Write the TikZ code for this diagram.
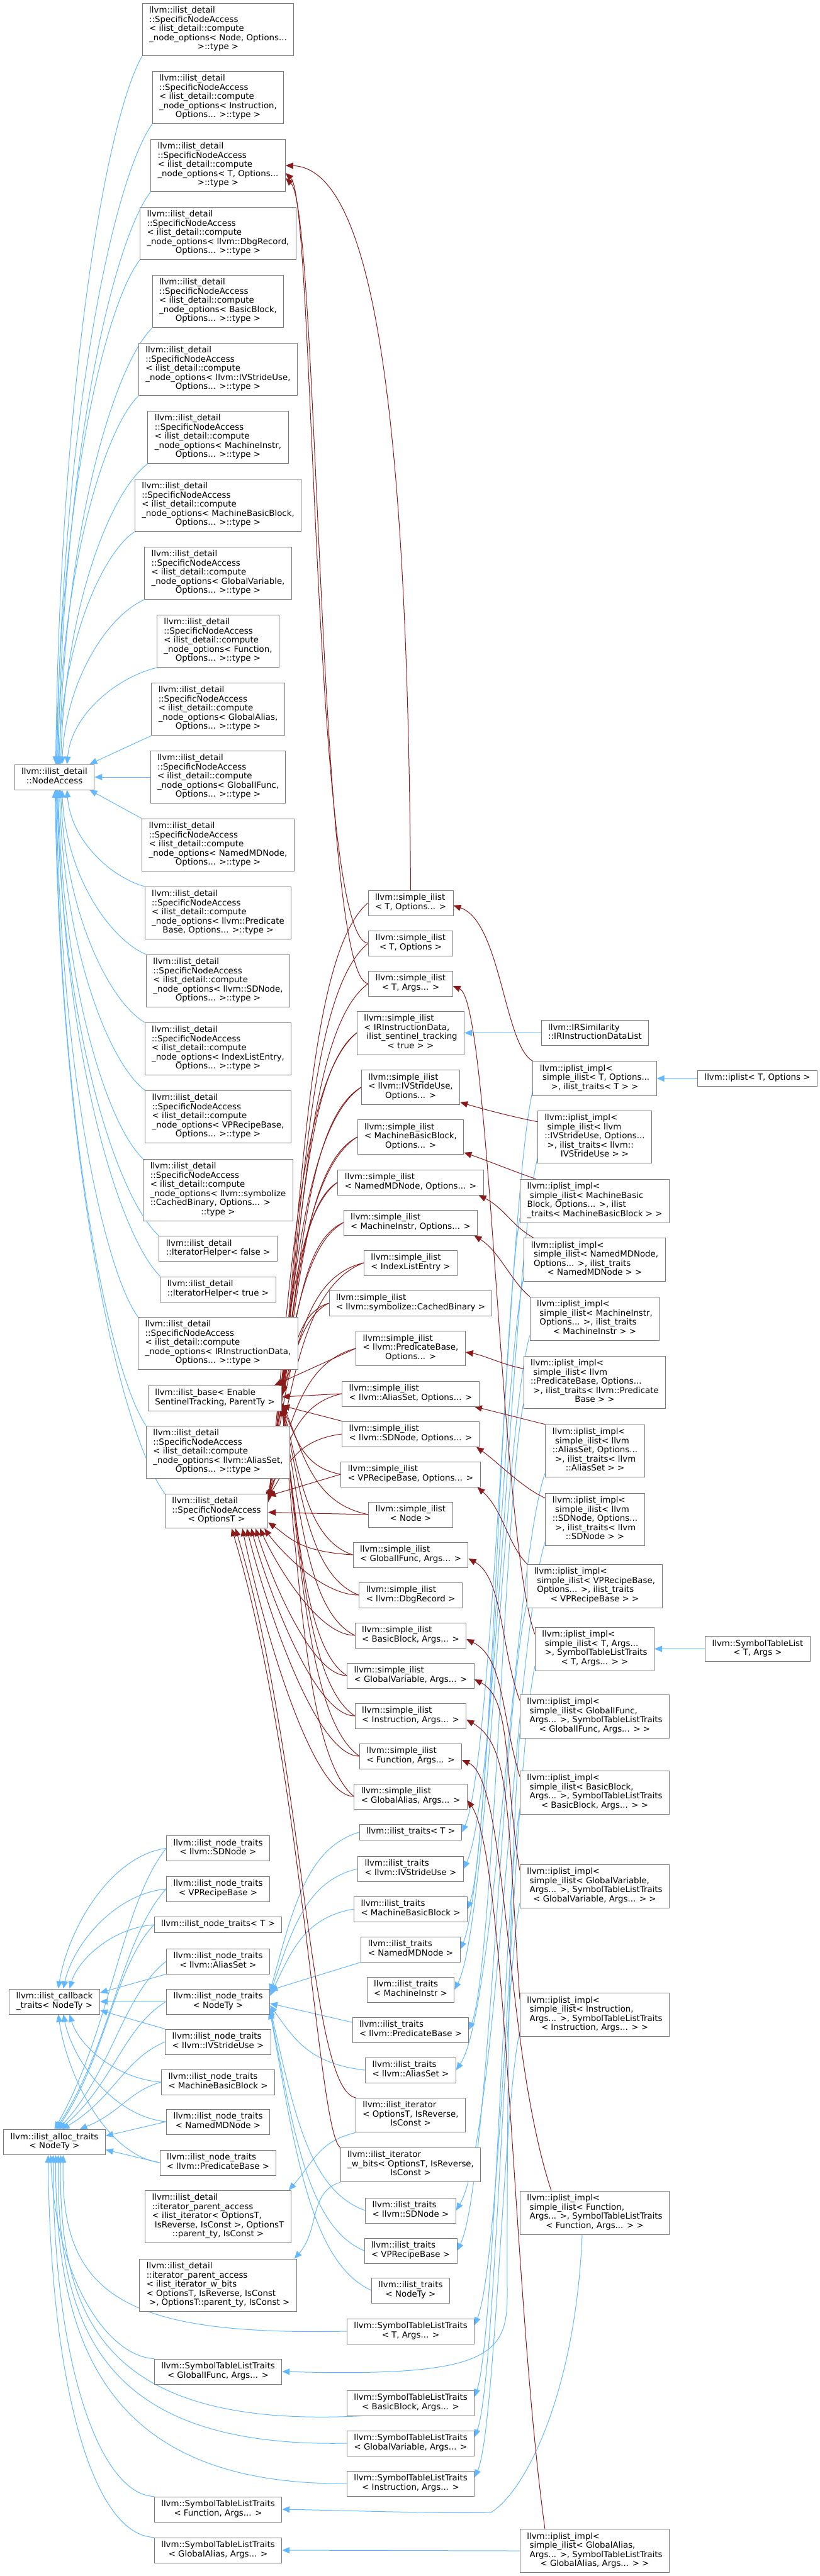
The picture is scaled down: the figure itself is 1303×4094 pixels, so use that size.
\documentclass[tikz,border=0pt]{standalone}
\usepackage{fontspec}
\setmainfont{DejaVu Sans}
\usetikzlibrary{arrows.meta,calc}
\pgfdeclarelayer{edgelayer}
\pgfsetlayers{edgelayer,main}
\definecolor{eblue}{HTML}{63B8FF}
\definecolor{ered}{HTML}{8B1A1A}
\definecolor{bgray}{HTML}{7A7A7A}
\newcommand\nf{\fontsize{13.33}{14.5}\selectfont}
\newcommand\ind{\hspace*{0.32em}}
\newcommand\lab[2]{\begin{tabular}{@{}l@{}}#1\\\multicolumn{1}{@{}c@{}}{#2}\end{tabular}}
\newcommand\one[1]{\begin{tabular}{@{}c@{}}#1\end{tabular}}
\newcommand\sna[2]{\lab{llvm::ilist\_detail\\::SpecificNodeAccess\\< ilist\_detail::compute\\#1}{#2}}
\newcommand\ipst[1]{\lab{llvm::iplist\_impl<\\\ind simple\_ilist< #1,\\\ind Args... >, SymbolTableListTraits}{< #1, Args... > >}}
\tikzset{
 box/.style={draw=bgray, fill=white, line width=1pt, inner xsep=11pt, inner ysep=5.5pt, font=\nf},
 be/.style={draw=eblue, line width=1pt, -{Triangle[length=12pt,width=10pt]}},
 re/.style={draw=ered, line width=1pt, -{Triangle[length=12pt,width=10pt]}},
 pc/.style n args={4}{to path={let \p1=(\tikztostart),\p2=(\tikztotarget) in .. controls ({\x1+#1*(\x2-\x1)},{\y1+#2*(\y2-\y1)}) and ({\x2+#3*(\x1-\x2)},{\y2+#4*(\y1-\y2)}) .. (\tikztotarget)}},
 naS/.style={pc={0.42}{0.09}{0.05}{0.53}},
 corr/.style={pc={0.65}{0.1}{0.25}{0.45}},
 fan/.style={pc={0.4}{0}{0.15}{0.3}},
 ntc/.style={pc={0.5}{0.05}{0.1}{0.45}},
 nta/.style={pc={0.4}{0.2}{0.5}{0.35}},
 itn/.style={pc={0.6}{0.1}{0.25}{0.5}},
 ipc/.style={pc={0.35}{0.15}{0.45}{0.1}}
}
\begin{document}
\begin{tikzpicture}[x=1pt,y=-1pt]
\useasboundingbox (0,0) rectangle (1303,4094);
% ---------- column A ----------
\node[box] (na) at (86.5,1235) {\lab{llvm::ilist\_detail}{::NodeAccess}};
\node[box] (cb) at (86.5,3181) {\lab{llvm::ilist\_callback}{\_traits< NodeTy >}};
\node[box] (al) at (86.5,3404.5) {\lab{llvm::ilist\_alloc\_traits}{< NodeTy >}};
% ---------- column B ----------
\node[box] (sNode) at (346.5,47) {\sna{\_node\_options< Node, Options...}{>::type >}};
\node[box] (sInst) at (346.5,155) {\sna{\_node\_options< Instruction,}{Options... >::type >}};
\node[box] (sT) at (346.5,263) {\sna{\_node\_options< T, Options...}{>::type >}};
\node[box] (sDbg) at (346.5,371) {\sna{\_node\_options< llvm::DbgRecord,}{Options... >::type >}};
\node[box] (sBB) at (346.5,479) {\sna{\_node\_options< BasicBlock,}{Options... >::type >}};
\node[box] (sIV) at (346.5,587) {\sna{\_node\_options< llvm::IVStrideUse,}{Options... >::type >}};
\node[box] (sMI) at (346.5,695) {\sna{\_node\_options< MachineInstr,}{Options... >::type >}};
\node[box] (sMBB) at (346.5,803) {\sna{\_node\_options< MachineBasicBlock,}{Options... >::type >}};
\node[box] (sGV) at (346.5,911) {\sna{\_node\_options< GlobalVariable,}{Options... >::type >}};
\node[box] (sFn) at (346.5,1019) {\sna{\_node\_options< Function,}{Options... >::type >}};
\node[box] (sGA) at (346.5,1127) {\sna{\_node\_options< GlobalAlias,}{Options... >::type >}};
\node[box] (sGI) at (346.5,1235) {\sna{\_node\_options< GlobalIFunc,}{Options... >::type >}};
\node[box] (sNMD) at (346.5,1343) {\sna{\_node\_options< NamedMDNode,}{Options... >::type >}};
\node[box] (sPB) at (346.5,1451) {\sna{\_node\_options< llvm::Predicate}{Base, Options... >::type >}};
\node[box] (sSD) at (346.5,1559) {\sna{\_node\_options< llvm::SDNode,}{Options... >::type >}};
\node[box] (sILE) at (346.5,1667) {\sna{\_node\_options< IndexListEntry,}{Options... >::type >}};
\node[box] (sVP) at (346.5,1775) {\sna{\_node\_options< VPRecipeBase,}{Options... >::type >}};
\node[box] (sCB) at (346.5,1891) {\sna{\_node\_options< llvm::symbolize\\::CachedBinary, Options... >}{::type >}};
\node[box] (ihF) at (346.5,1984.5) {\lab{llvm::ilist\_detail}{::IteratorHelper< false >}};
\node[box] (ihT) at (346.5,2049) {\lab{llvm::ilist\_detail}{::IteratorHelper< true >}};
\node[box] (sIRD) at (346.5,2135) {\sna{\_node\_options< IRInstructionData,}{Options... >::type >}};
\node[box] (ib) at (341.5,2222) {\lab{llvm::ilist\_base< Enable}{SentinelTracking, ParentTy >}};
\node[box] (sAS) at (346.5,2308) {\sna{\_node\_options< llvm::AliasSet,}{Options... >::type >}};
\node[box] (sOT) at (344,2401.5) {\lab{llvm::ilist\_detail\\::SpecificNodeAccess}{< OptionsT >}};
% ---------- column A' ----------
\node[box] (ntSD) at (346.5,2937.5) {\lab{llvm::ilist\_node\_traits}{< llvm::SDNode >}};
\node[box] (ntVP) at (346.5,3002) {\lab{llvm::ilist\_node\_traits}{< VPRecipeBase >}};
\node[box] (ntT) at (346.5,3059) {\one{llvm::ilist\_node\_traits< T >}};
\node[box] (ntAS) at (346.5,3117) {\lab{llvm::ilist\_node\_traits}{< llvm::AliasSet >}};
\node[box] (ntNT) at (346.5,3181) {\lab{llvm::ilist\_node\_traits}{< NodeTy >}};
\node[box] (ntIV) at (346.5,3245) {\lab{llvm::ilist\_node\_traits}{< llvm::IVStrideUse >}};
\node[box] (ntMBB) at (346.5,3309) {\lab{llvm::ilist\_node\_traits}{< MachineBasicBlock >}};
\node[box] (ntNMD) at (346.5,3372) {\lab{llvm::ilist\_node\_traits}{< NamedMDNode >}};
\node[box] (ntPB) at (346.5,3437) {\lab{llvm::ilist\_node\_traits}{< llvm::PredicateBase >}};
\node[box] (ipa) at (346.5,3523) {\lab{llvm::ilist\_detail\\::iterator\_parent\_access\\< ilist\_iterator< OptionsT,\\\ind IsReverse, IsConst >, OptionsT}{::parent\_ty, IsConst >}};
\node[box] (ipawb) at (346.5,3632) {\lab{llvm::ilist\_detail\\::iterator\_parent\_access\\< ilist\_iterator\_w\_bits\\< OptionsT, IsReverse, IsConst}{\ind>, OptionsT::parent\_ty, IsConst >}};
\node[box] (stGI) at (346.5,3769) {\lab{llvm::SymbolTableListTraits}{< GlobalIFunc, Args... >}};
\node[box] (stFn) at (346.5,3988) {\lab{llvm::SymbolTableListTraits}{< Function, Args... >}};
\node[box] (stGA) at (346.5,4053) {\lab{llvm::SymbolTableListTraits}{< GlobalAlias, Args... >}};
% ---------- column C ----------
\node[box] (siTO) at (652.5,1435) {\lab{llvm::simple\_ilist}{< T, Options... >}};
\node[box] (siTOn) at (652.5,1499) {\lab{llvm::simple\_ilist}{< T, Options >}};
\node[box] (siTA) at (652.5,1563) {\lab{llvm::simple\_ilist}{< T, Args... >}};
\node[box] (siIRD) at (652.5,1641.5) {\lab{llvm::simple\_ilist\\< IRInstructionData,\\\ind ilist\_sentinel\_tracking}{< true > >}};
\node[box] (siIV) at (652.5,1728) {\lab{llvm::simple\_ilist\\< llvm::IVStrideUse,}{Options... >}};
\node[box] (siMBB) at (652.5,1807) {\lab{llvm::simple\_ilist\\< MachineBasicBlock,}{Options... >}};
\node[box] (siNMD) at (652.5,1879) {\lab{llvm::simple\_ilist}{< NamedMDNode, Options... >}};
\node[box] (siMI) at (652.5,1943) {\lab{llvm::simple\_ilist}{< MachineInstr, Options... >}};
\node[box] (siILE) at (652.5,2007) {\lab{llvm::simple\_ilist}{< IndexListEntry >}};
\node[box] (siCB) at (652.5,2071) {\lab{llvm::simple\_ilist}{< llvm::symbolize::CachedBinary >}};
\node[box] (siPB) at (652.5,2143) {\lab{llvm::simple\_ilist\\< llvm::PredicateBase,}{Options... >}};
\node[box] (siAS) at (652.5,2215) {\lab{llvm::simple\_ilist}{< llvm::AliasSet, Options... >}};
\node[box] (siSD) at (652.5,2279) {\lab{llvm::simple\_ilist}{< llvm::SDNode, Options... >}};
\node[box] (siVP) at (652.5,2343) {\lab{llvm::simple\_ilist}{< VPRecipeBase, Options... >}};
\node[box] (siNode) at (652.5,2407) {\lab{llvm::simple\_ilist}{< Node >}};
\node[box] (siGI) at (652.5,2471) {\lab{llvm::simple\_ilist}{< GlobalIFunc, Args... >}};
\node[box] (siDbg) at (652.5,2535) {\lab{llvm::simple\_ilist}{< llvm::DbgRecord >}};
\node[box] (siBB) at (652.5,2599) {\lab{llvm::simple\_ilist}{< BasicBlock, Args... >}};
\node[box] (siGV) at (652.5,2663) {\lab{llvm::simple\_ilist}{< GlobalVariable, Args... >}};
\node[box] (siInst) at (652.5,2727) {\lab{llvm::simple\_ilist}{< Instruction, Args... >}};
\node[box] (siFn) at (652.5,2791) {\lab{llvm::simple\_ilist}{< Function, Args... >}};
\node[box] (siGA) at (652.5,2855) {\lab{llvm::simple\_ilist}{< GlobalAlias, Args... >}};
\node[box] (itT) at (652.5,2912) {\one{llvm::ilist\_traits< T >}};
\node[box] (itIV) at (652.5,2970) {\lab{llvm::ilist\_traits}{< llvm::IVStrideUse >}};
\node[box] (itMBB) at (652.5,3034) {\lab{llvm::ilist\_traits}{< MachineBasicBlock >}};
\node[box] (itNMD) at (652.5,3098) {\lab{llvm::ilist\_traits}{< NamedMDNode >}};
\node[box] (itMI) at (652.5,3162) {\lab{llvm::ilist\_traits}{< MachineInstr >}};
\node[box] (itPB) at (652.5,3226) {\lab{llvm::ilist\_traits}{< llvm::PredicateBase >}};
\node[box] (itAS) at (652.5,3290) {\lab{llvm::ilist\_traits}{< llvm::AliasSet >}};
\node[box] (iter) at (652.5,3361.5) {\lab{llvm::ilist\_iterator\\< OptionsT, IsReverse,}{IsConst >}};
\node[box] (iterwb) at (652.5,3440.5) {\lab{llvm::ilist\_iterator\\\_w\_bits< OptionsT, IsReverse,}{IsConst >}};
\node[box] (itSD) at (652.5,3513) {\lab{llvm::ilist\_traits}{< llvm::SDNode >}};
\node[box] (itVP) at (652.5,3577) {\lab{llvm::ilist\_traits}{< VPRecipeBase >}};
\node[box] (itNT) at (652.5,3640) {\lab{llvm::ilist\_traits}{< NodeTy >}};
\node[box] (stT) at (652.5,3705) {\lab{llvm::SymbolTableListTraits}{< T, Args... >}};
\node[box] (stBB) at (652.5,3819) {\lab{llvm::SymbolTableListTraits}{< BasicBlock, Args... >}};
\node[box] (stGV) at (652.5,3883) {\lab{llvm::SymbolTableListTraits}{< GlobalVariable, Args... >}};
\node[box] (stInst) at (652.5,3947) {\lab{llvm::SymbolTableListTraits}{< Instruction, Args... >}};
% ---------- column D ----------
\node[box] (irdl) at (945.5,1641.5) {\lab{llvm::IRSimilarity}{::IRInstructionDataList}};
\node[box] (ipT) at (945,1714) {\lab{llvm::iplist\_impl<\\\ind simple\_ilist< T, Options...}{>, ilist\_traits< T > >}};
\node[box] (ipIV) at (945,1807) {\lab{llvm::iplist\_impl<\\\ind simple\_ilist< llvm\\::IVStrideUse, Options...\\\ind >, ilist\_traits< llvm::}{IVStrideUse > >}};
\node[box] (ipMBB) at (945,1908.5) {\lab{llvm::iplist\_impl<\\\ind simple\_ilist< MachineBasic\\Block, Options... >, ilist}{\_traits< MachineBasicBlock > >}};
\node[box] (ipNMD) at (945,2002) {\lab{llvm::iplist\_impl<\\\ind simple\_ilist< NamedMDNode,\\\ind Options... >, ilist\_traits}{< NamedMDNode > >}};
\node[box] (ipMI) at (945,2095.5) {\lab{llvm::iplist\_impl<\\\ind simple\_ilist< MachineInstr,\\\ind Options... >, ilist\_traits}{< MachineInstr > >}};
\node[box] (ipPB) at (945,2197) {\lab{llvm::iplist\_impl<\\\ind simple\_ilist< llvm\\::PredicateBase, Options...\\\ind >, ilist\_traits< llvm::Predicate}{Base > >}};
\node[box] (ipAS) at (945.5,2306) {\lab{llvm::iplist\_impl<\\\ind simple\_ilist< llvm\\::AliasSet, Options...\\\ind >, ilist\_traits< llvm}{::AliasSet > >}};
\node[box] (ipSD) at (945.5,2415) {\lab{llvm::iplist\_impl<\\\ind simple\_ilist< llvm\\::SDNode, Options...\\\ind >, ilist\_traits< llvm}{::SDNode > >}};
\node[box] (ipVP) at (945,2520.5) {\lab{llvm::iplist\_impl<\\\ind simple\_ilist< VPRecipeBase,\\\ind Options... >, ilist\_traits}{< VPRecipeBase > >}};
\node[box] (ipTA) at (945,2620.5) {\lab{llvm::iplist\_impl<\\\ind simple\_ilist< T, Args...\\\ind >, SymbolTableListTraits}{< T, Args... > >}};
\node[box] (ipGI) at (945,2727.5) {\ipst{GlobalIFunc}};
\node[box] (ipBB) at (945,2848.5) {\ipst{BasicBlock}};
\node[box] (ipGV) at (945,2997.5) {\ipst{GlobalVariable}};
\node[box] (ipInst) at (945,3202) {\ipst{Instruction}};
\node[box] (ipFn) at (945,3516.5) {\ipst{Function}};
\node[box] (ipGA) at (945,4054) {\ipst{GlobalAlias}};
\node[box] (ipl) at (1203.5,1714) {\one{llvm::iplist< T, Options >}};
\node[box] (stl) at (1204,2620.5) {\lab{llvm::SymbolTableList}{< T, Args >}};
\coordinate (gibend) at (806,3650);
\coordinate (fnbend) at (780,3993);
% ================= edges =================
\begin{pgfonlayer}{edgelayer}
% --- NodeAccess (blue)
\foreach \n/\d in {sNode/2,sInst/4,sT/6,sDbg/3,sBB/8,sIV/5,sMI/10,sMBB/7,sGV/12,sFn/20}
  {\draw[be] (\n.south west) to[naS] ($(na.north)+(\d,0)$);}
\draw[be] (sGA.south west) -- ($(na.north east)+(-8,0)$);
\draw[be] (sGI.west) -- (na.east);
\draw[be] (sNMD.north west) -- ($(na.south east)+(-8,0)$);
\foreach \n/\d in {sPB/20,sSD/12,sILE/10,sVP/8,sCB/6,ihF/4,ihT/5,sIRD/3,sAS/2,sOT/1}
  {\draw[be] (\n.north west) to[naS] ($(na.south)+(\d,0)$);}
% --- node traits -> callback / alloc
\foreach \n/\d in {ntSD/6,ntVP/14,ntT/24}
  {\draw[be] (\n.west) to[ntc] ($(cb.north)+(\d,0)$);}
\draw[be] (ntAS.south west) -- ($(cb.east)+(0,-14)$);
\draw[be] (ntNT.west) -- (cb.east);
\draw[be] (ntIV.north west) -- ($(cb.east)+(0,14)$);
\foreach \n/\d in {ntMBB/24,ntNMD/14,ntPB/6}
  {\draw[be] (\n.west) to[ntc] ($(cb.south)+(\d,0)$);}
\foreach \n/\d in {ntSD/0,ntVP/2,ntT/4,ntAS/6,ntNT/8,ntIV/12,ntMBB/40}
  {\draw[be] (\n.west) to[nta] ($(al.north)+(\d,0)$);}
\draw[be] (ntNMD.west) -- ($(al.east)+(0,-10)$);
\draw[be] (ntPB.west) -- ($(al.east)+(0,12)$);
% --- SymbolTableListTraits -> alloc
\draw[be] (stT.west) .. controls (200,3712) and (95,3650) .. ($(al.south)+(14,0)$);
\draw[be] (stGI.north west) .. controls (170,3745) and (88,3620) .. ($(al.south)+(-6,0)$);
\draw[be] ($(stBB.south west)+(25,0)$) .. controls (180,3860) and (92,3700) .. ($(al.south)+(10,0)$);
\draw[be] (stGV.west) .. controls (180,3890) and (90,3720) .. ($(al.south)+(6,0)$);
\draw[be] (stInst.west) .. controls (180,3950) and (88,3740) .. ($(al.south)+(2,0)$);
\draw[be] (stFn.north west) .. controls (160,3965) and (84,3760) .. ($(al.south)+(-2,0)$);
\draw[be] (stGA.north west) .. controls (150,4030) and (80,3800) .. ($(al.south)+(-10,0)$);
% --- ilist_traits -> ilist_node_traits<NodeTy>
\foreach \n/\d in {itT/-16,itIV/-12,itMBB/-9,itAS/6,itSD/10,itVP/13,itNT/16}
  {\draw[be] (\n.west) to[itn] ($(ntNT.east)+(0,\d)$);}
\draw[be] (itNMD.south west) -- ($(ntNT.east)+(0,-18)$);
\draw[be] ($(itPB.west)+(0,-12)$) -- ($(ntNT.east)+(0,3)$);
% --- iterators -> iterator_parent_access
\draw[be] (iter.south west) .. controls +(-60,15) and +(40,-45) .. ($(ipa.north east)+(-4,0)$);
\draw[be] (iterwb.south west) .. controls +(-50,15) and +(40,-45) .. ($(ipawb.north east)+(-4,0)$);
% --- iplist_impl -> traits (blue)
\foreach \a/\b in {ipT/itT,ipIV/itIV,ipMBB/itMBB,ipNMD/itNMD,ipMI/itMI,ipPB/itPB,ipAS/itAS,ipSD/itSD,ipVP/itVP}
  {\draw[be] ($(\a.south west)+(0,-8)$) to[ipc] (\b.east);}
\foreach \a/\b in {ipTA/stT,ipBB/stBB,ipGV/stGV,ipInst/stInst}
  {\draw[be] ($(\a.south west)+(0,-8)$) to[ipc] ($(\b.east)+(0,-10)$);}
\draw[be] ($(ipGI.south west)+(0,-8)$) .. controls +(-22,300) and (806,3560) .. (gibend) .. controls (806,3745) and (770,3778) .. (stGI.east);
\draw[be] ($(ipFn.south)+(-20,0)$) .. controls +(-10,250) and (835,3960) .. (fnbend) .. controls (700,3995) and (560,3990) .. (stFn.east);
\draw[be] (ipGA.west) -- (stGA.east);
\draw[be] (ipl.west) -- (ipT.east);
\draw[be] (stl.west) -- (ipTA.east);
\draw[be] (irdl.west) -- (siIRD.east);
% --- simple_ilist -> SpecificNodeAccess<T> (red)
\draw[re] (siTO.north) .. controls (648,700) and (600,268) .. (sT.east);
\draw[re] (siTOn.west) .. controls (497,1499) and (500,320) .. ($(sT.east)+(0,12)$);
\draw[re] (siTA.west) .. controls (505,1563) and (507,335) .. ($(sT.east)+(0,20)$);
% --- simple_ilist -> ilist_base / SpecificNodeAccess<OptionsT> (red)
\foreach \n/\d in {siTO/-17,siTOn/-16,siTA/-15}
  {\draw[re] (\n.west) to[corr] ($(ib.east)+(0,\d)$);}
\foreach \n/\a/\b in {siIRD/-12/-14,siIV/-10/-15,siMBB/-8/-16,siNMD/-6/-17,siMI/-4/-18,siILE/-8/-19,siCB/-6/-20}
  {\draw[re] (\n.west) to[corr] ($(ib.east)+(0,\a)$);
   \draw[re] (\n.west) to[corr] ($(sOT.east)+(0,\b)$);}
\draw[re] (siPB.west) -- ($(ib.north east)+(-12,0)$);
\draw[re] (siPB.west) to[corr] ($(sOT.east)+(0,-21)$);
\draw[re] (siAS.west) -- ($(ib.east)+(0,-2)$);
\draw[re] (siAS.west) to[corr] ($(sOT.east)+(0,-22)$);
\draw[re] (siSD.north west) -- ($(ib.east)+(0,12)$);
\draw[re] (siSD.west) to[corr] ($(sOT.east)+(0,-23)$);
\draw[re] (siVP.west) to[corr] ($(ib.east)+(0,15)$);
\draw[re] (siVP.west) -- ($(sOT.east)+(0,-24)$);
\draw[re] (siNode.west) to[corr] ($(ib.east)+(0,8)$);
\draw[re] (siNode.west) -- ($(sOT.east)+(0,2)$);
\draw[re] (siGI.west) to[corr] ($(ib.east)+(0,10)$);
\draw[re] (siGI.west) to[corr] ($(sOT.east)+(0,18)$);
\foreach \n/\a/\b in {siDbg/-6/12,siBB/-13/13,siGV/-20/14,siInst/-27/15,siFn/-34/16,siGA/-41/17}
  {\draw[re] (\n.west) to[fan] ($(sOT.south east)+(\a,0)$);
   \draw[re] (\n.west) to[corr] ($(ib.east)+(0,\b)$);}
% --- iterators -> SpecificNodeAccess<OptionsT> (red)
\draw[re] (iter.north west) .. controls (490,3320) and (485,2800) .. ($(sOT.south east)+(-52,0)$);
\draw[re] (iterwb.north west) .. controls (505,3390) and (480,2800) .. ($(sOT.south east)+(-58,0)$);
% --- iplist_impl -> simple_ilist (red)
\draw[re] (ipT.north west) .. controls +(-45,-25) and +(75,25) .. ($(siTO.east)+(0,4)$);
\draw[re] ($(ipIV.north west)+(0,18)$) .. controls +(-40,-8) and +(40,12) .. ($(siIV.south east)+(0,-4)$);
\draw[re] ($(ipMBB.north west)+(25,0)$) .. controls +(-30,-10) and +(35,12) .. ($(siMBB.south east)+(0,-3)$);
\draw[re] ($(ipNMD.north west)+(15,0)$) .. controls +(-35,-20) and +(40,20) .. ($(siNMD.south east)+(-8,0)$);
\draw[re] (ipMI.north west) .. controls +(-30,-25) and +(40,25) .. ($(siMI.south east)+(-6,0)$);
\draw[re] ($(ipPB.west)+(0,-22)$) .. controls +(-30,-5) and +(30,5) .. ($(siPB.east)+(0,6)$);
\draw[re] (ipAS.north west) .. controls +(-40,-10) and +(40,10) .. ($(siAS.south east)+(-8,0)$);
\draw[re] ($(ipSD.north west)+(0,8)$) .. controls +(-35,-15) and +(35,25) .. ($(siSD.south east)+(-5,0)$);
\draw[re] (ipVP.north west) .. controls +(-30,-30) and +(40,35) .. ($(siVP.south east)+(-5,0)$);
\draw[re] ($(ipTA.north west)+(0,12)$) .. controls +(-55,-150) and +(60,25) .. ($(siTA.east)+(0,4)$);
\draw[re] ($(ipGI.north west)+(0,10)$) .. controls +(-30,-80) and +(55,30) .. ($(siGI.east)+(0,6)$);
\draw[re] ($(ipBB.north west)+(0,10)$) .. controls +(-30,-100) and +(60,30) .. ($(siBB.east)+(0,6)$);
\draw[re] ($(ipGV.north west)+(0,10)$) .. controls +(-25,-150) and +(60,30) .. ($(siGV.east)+(0,6)$);
\draw[re] ($(ipInst.north west)+(0,10)$) .. controls +(-20,-300) and +(70,40) .. ($(siInst.east)+(0,6)$);
\draw[re] ($(ipFn.north west)+(50,0)$) .. controls (800,3250) and (808,2830) .. ($(siFn.east)+(0,6)$);
\draw[re] ($(ipGA.north west)+(40,0)$) .. controls (815,3650) and (805,2950) .. ($(siGA.east)+(0,6)$);
\end{pgfonlayer}
\end{tikzpicture}
\end{document}
